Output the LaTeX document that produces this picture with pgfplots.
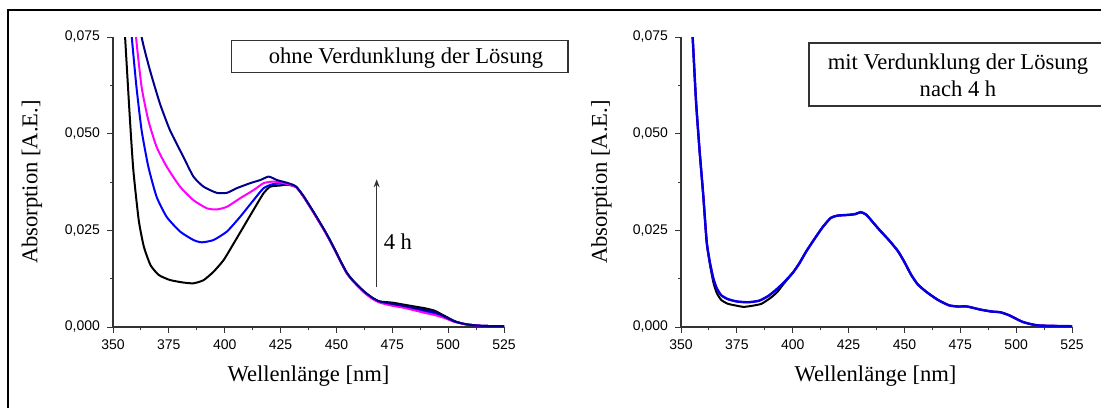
\documentclass[border=0pt]{standalone}
\usepackage{fontspec}
\setmainfont{Liberation Serif}
\newfontfamily\tickfont{Liberation Sans}
\usepackage{pgfplots}
\pgfplotsset{compat=1.18}
\usetikzlibrary{arrows.meta}
\definecolor{cnavy}{RGB}{0,0,140}
\definecolor{cblue}{RGB}{0,0,255}
\definecolor{cmag}{RGB}{255,0,255}
\pgfplotsset{
  specaxis/.style={
    scale only axis, width=195.5pt, height=145pt,
    xmin=350, xmax=525, ymin=0, ymax=0.075,
    axis x line*=bottom, axis y line*=left,
    axis line style={black!80, line width=0.6pt},
    xtick={350,375,...,525}, ytick={0,0.025,0.05,0.075},
    minor x tick num=1, minor y tick num=1,
    tick align=outside, major tick length=3pt, minor tick length=1.6pt,
    tick style={black!80, line width=0.5pt},
    ticklabel style={font=\tickfont\fontsize{7}{8}\selectfont},
    /pgf/number format/assume math mode=true,
    yticklabel style={/pgf/number format/.cd, fixed, fixed zerofill, precision=3, use comma},
    xticklabel style={/pgf/number format/.cd, fixed, precision=0, 1000 sep={}},
    scaled y ticks=false,
    every axis plot/.append style={line width=1pt, smooth, tension=0.35},
  }
}
\pgfplotstableread{
x y
354 0.085
355.2 0.075
356.7 0.0586
358.3 0.0457
359.9 0.0345
361.5 0.0220
363 0.0165
364.5 0.0125
366 0.0100
368 0.0082
371 0.0072
375 0.0066
380 0.0064
385 0.0068
389 0.0080
392.5 0.0096
396 0.0115
400 0.0140
403 0.0165
406 0.0195
410 0.0230
413.5 0.0259
417 0.0282
420 0.0288
425 0.0290
428 0.0292
430.5 0.0297
433 0.0290
436 0.0270
439 0.0250
443 0.0225
447 0.0197
450 0.0168
453 0.0135
456 0.0110
460 0.0090
465 0.0070
470 0.0056
474 0.0053
478 0.0053
484 0.0045
489 0.0040
493 0.0038
497 0.0030
503 0.0013
510 0.0004
525 0.0002
}\rightblue
\pgfplotstableread{
x y
354 0.085
355.2 0.075
356.7 0.0586
358.3 0.0457
359.9 0.0345
361.5 0.0220
363 0.0160
364.5 0.0115
366 0.0088
368 0.0070
371 0.0060
375 0.0055
378 0.0052
382 0.0055
386 0.0060
390 0.0075
393 0.0090
396 0.0112
400 0.0140
403 0.0165
406 0.0195
410 0.0230
413.5 0.0259
417 0.0282
420 0.0288
425 0.0290
428 0.0292
430.5 0.0297
433 0.0290
436 0.0270
439 0.0250
443 0.0225
447 0.0197
450 0.0168
453 0.0135
456 0.0110
460 0.0090
465 0.0070
470 0.0056
474 0.0053
478 0.0053
484 0.0045
489 0.0040
493 0.0038
497 0.0030
503 0.0013
510 0.0004
525 0.0002
}\rightblack
\begin{document}
\begin{tikzpicture}
\useasboundingbox (0,0) rectangle (550.5pt,203.5pt);
% outer frame
\draw[line width=1pt] (4pt,-5pt) -- (4pt,198.5pt) -- (560pt,198.5pt);
% ---------- left panel ----------
\begin{axis}[specaxis, at={(56.5pt,40pt)}, anchor=south west]
\addplot[black] coordinates {(354.5,0.085)(355.4,0.0751)(357.6,0.0535)(359.1,0.0406)(361.5,0.0277)(363.8,0.0208)(366.8,0.0160)(370.5,0.01345)(375.5,0.01215)(381.5,0.0115)(386,0.0113)(390.5,0.0121)(395,0.0143)(399.5,0.0173)(404,0.0216)(408.4,0.0259)(412.9,0.0303)(417.4,0.0346)(420.4,0.0363)(424.9,0.0366)(428,0.0368)
(432,0.0362)(435,0.0340)(438,0.0313)(441,0.0285)(444.5,0.0251)(447,0.0225)(449.5,0.0197)(452,0.0168)(454.6,0.0140)(457,0.0122)(460,0.0104)(463,0.0088)(466.3,0.0074)(469.4,0.0066)
(475,0.0063)(480,0.0058)(485,0.0053)(490,0.0048)(494,0.0042)(498,0.0030)(503,0.0015)(508,0.0007)(515,0.0003)(525,0.0002)};
\addplot[cblue] coordinates {(357.5,0.085)(358.4,0.0751)(360.5,0.0621)(362.8,0.0509)(365.8,0.0415)(369.5,0.0337)(374,0.0285)(380,0.0247)(386,0.0225)(389.7,0.0219)(395,0.0225)(401,0.0247)(406.9,0.0285)(412.9,0.0328)(417.4,0.0359)(421.9,0.0370)(427.9,0.0370)
(432,0.0362)(435,0.0340)(438,0.0313)(441,0.0285)(444.5,0.0251)(447,0.0225)(449.5,0.0197)(452,0.0168)(454.6,0.0140)(457,0.0122)(460,0.0104)(463,0.0088)(466.3,0.0074)(469.4,0.0065)
(475,0.0058)(480,0.0052)(485,0.0046)(490,0.0040)(494,0.0035)(498,0.0026)(503,0.0014)(508,0.0007)(515,0.0003)(525,0.0002)};
\addplot[cmag] coordinates {(359.3,0.085)(360.3,0.0751)(362.8,0.0621)(365.8,0.0535)(369.5,0.0466)(374,0.0415)(380,0.0363)(386,0.0328)(392,0.0307)(396.4,0.0304)(401,0.0311)(406.9,0.0333)(412.9,0.0354)(417.4,0.0372)(421.9,0.0376)(427.9,0.0370)
(432,0.0361)(435,0.0339)(438,0.0312)(441,0.0284)(444.5,0.0250)(447,0.0224)(449.5,0.0196)(452,0.0167)(454.6,0.0139)(457,0.0121)(460,0.0103)(463,0.0086)(466.3,0.0072)(469.4,0.0063)
(475,0.0055)(480,0.0050)(485,0.0043)(490,0.0036)(494,0.0031)(498,0.0024)(503,0.0013)(508,0.0007)(515,0.0003)(525,0.0002)};
\addplot[cnavy] coordinates {(361.5,0.085)(362.8,0.0751)(366.5,0.0665)(371,0.0578)(375.5,0.0509)(381.5,0.0440)(386,0.0389)(390.5,0.0363)(396.4,0.0347)(401,0.0347)(405.4,0.0359)(411.4,0.0372)(415.9,0.0380)(419.7,0.0389)(423.4,0.0380)(427.9,0.0373)(430.9,0.0367)
(432,0.0363)(435,0.0341)(438,0.0314)(441,0.0286)(444.5,0.0252)(447,0.0226)(449.5,0.0198)(452,0.0169)(454.6,0.0141)(457,0.0123)(460,0.0105)(463,0.0089)(466.3,0.0075)(469.4,0.0066)
(475,0.0060)(480,0.0055)(485,0.0049)(490,0.0044)(494,0.0039)(498,0.0028)(503,0.0014)(508,0.0007)(515,0.0003)(525,0.0002)};
\draw[black!80, line width=0.5pt, -{Stealth[length=4pt,width=3pt]}] (axis cs:468,0.0103) -- (axis cs:468,0.0382);
\node[anchor=west, inner sep=0pt, font=\fontsize{11.3}{13.5}\selectfont] at (axis cs:471.0,0.0222) {4 h};
\end{axis}
% ---------- right panel ----------
\begin{axis}[specaxis, at={(340.5pt,40pt)}, anchor=south west]
\addplot[black] table[x=x,y=y] {\rightblack};
\addplot[cmag] table[x=x,y=y] {\rightblue};
\addplot[cblue!75!cnavy, line width=1.2pt] table[x=x,y=y] {\rightblue};
\end{axis}
% ---------- labels ----------
\begin{scope}[every node/.style={font=\fontsize{11.3}{13.5}\selectfont, inner sep=0pt}]
\node[rotate=90] at (16pt,112.5pt) {Absorption [A.E.]};
\node[rotate=90] at (300.75pt,112.5pt) {Absorption [A.E.]};
\node at (154.25pt,15.5pt) {Wellenlänge [nm]};
\node at (437.75pt,15.5pt) {Wellenlänge [nm]};
\draw[black!80, line width=0.6pt] (115.75pt,167.15pt) rectangle (284pt,183.15pt);
\node at (203pt,174.6pt) {ohne Verdunklung der Lösung};
\draw[black!80, line width=0.6pt] (404.5pt,150.5pt) rectangle (570pt,182pt);
\node[align=center] at (479pt,166pt) {mit Verdunklung der Lösung\\nach 4 h};
\end{scope}
\end{tikzpicture}
\end{document}
